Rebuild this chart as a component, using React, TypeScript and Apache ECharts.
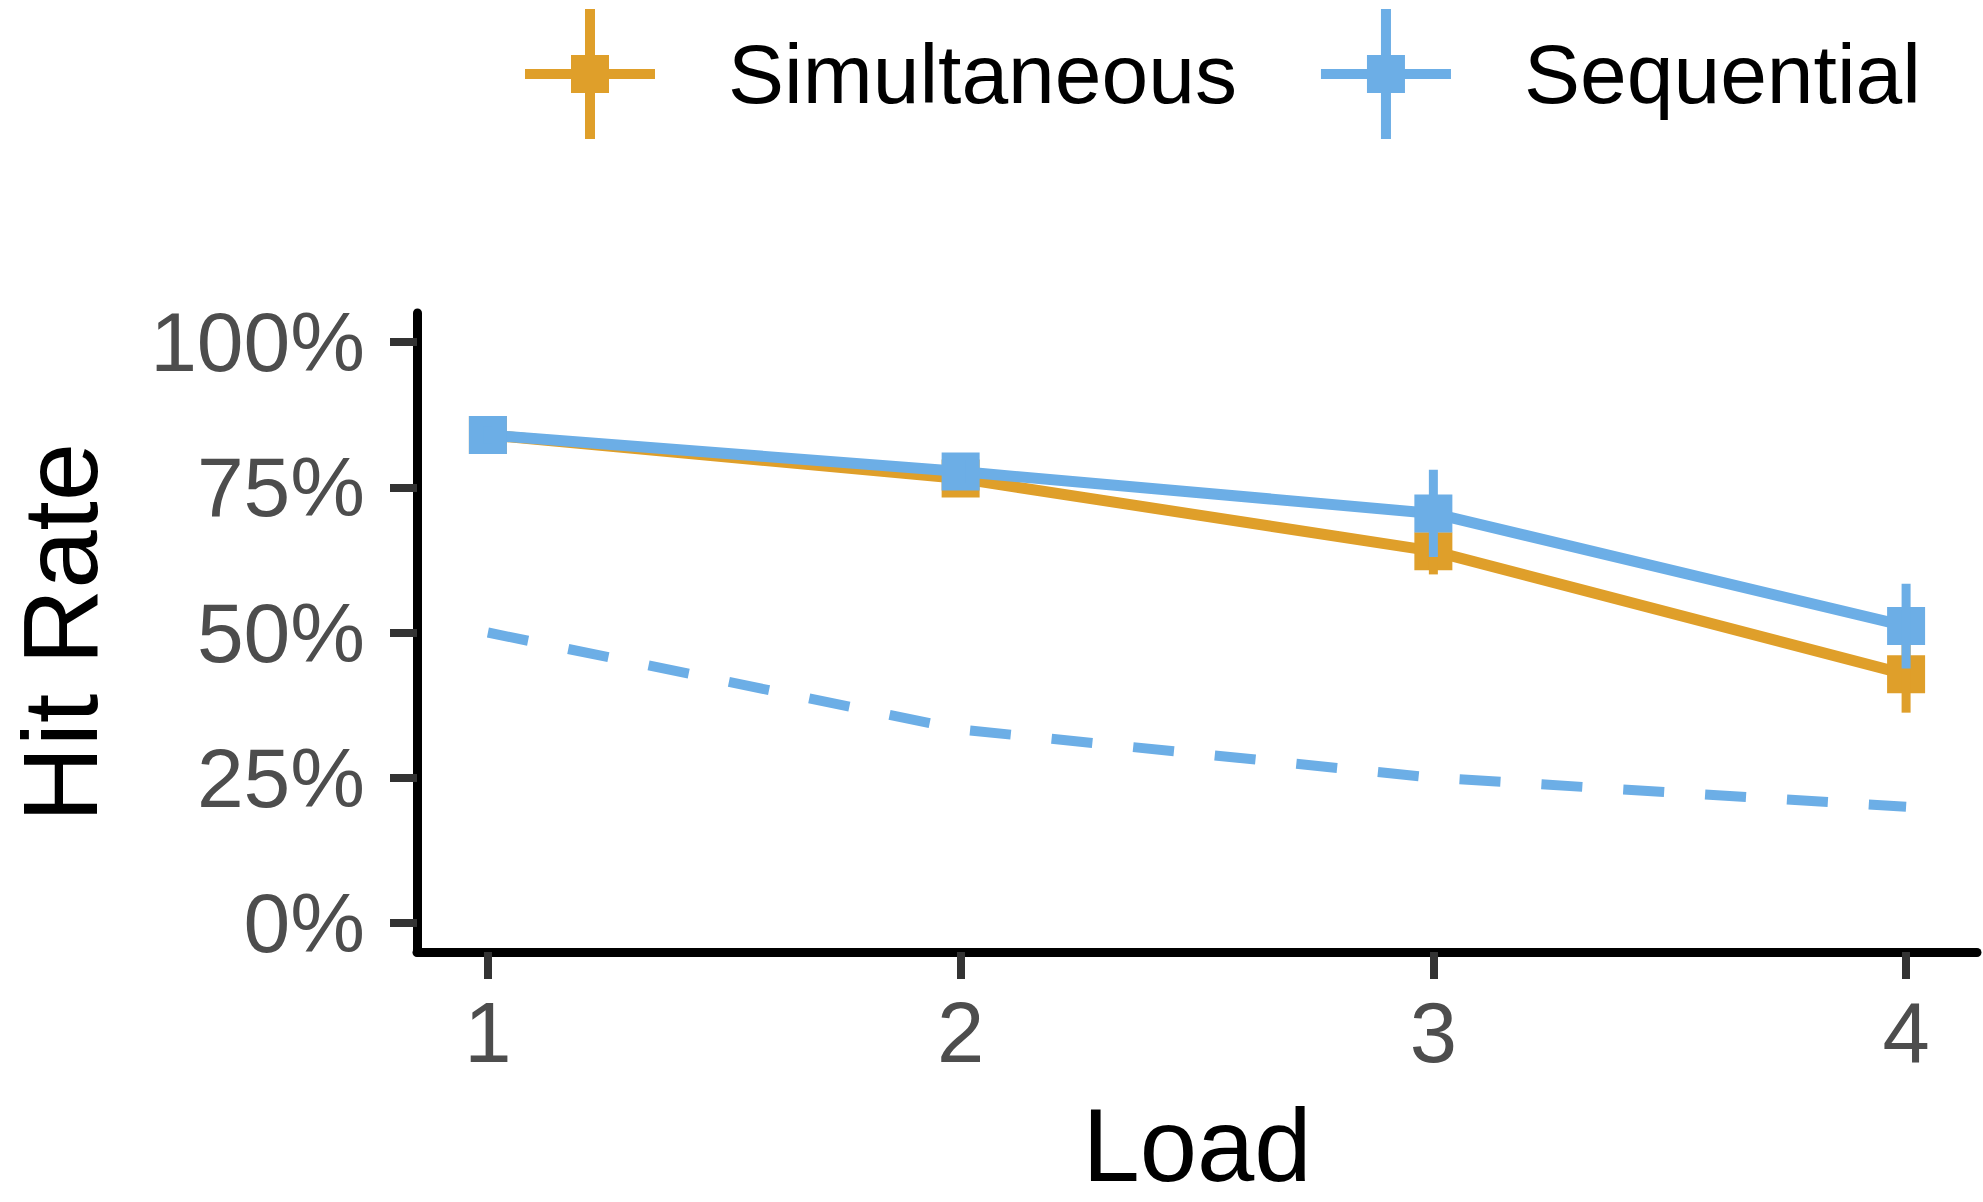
import React, { useEffect, useRef } from "react";
import * as echarts from "echarts";

const loads = [1, 2, 3, 4];
const simMean = [0.84, 0.765, 0.64, 0.428];
const simErr = [0.015, 0.02, 0.04, 0.066];
const seqMean = [0.84, 0.777, 0.705, 0.511];
const seqErr = [0.015, 0.02, 0.075, 0.073];
const chance = [0.5, 0.333, 0.25, 0.2];
const yTicks = [0, 0.25, 0.5, 0.75, 1];
const xTicks = [1, 2, 3, 4];
const seriesNames = ["Simultaneous", "Sequential"];

const ORANGE = "#DF9F2A";
const BLUE = "#6CAEE6";
const FONT = "Liberation Sans, Arial, Helvetica, sans-serif";
const LEGEND_ICON =
  "path://M0,60H130V70H0Z M60,0H70V130H60Z M46,46H84V84H46Z";

function errSeries(name: string, means: number[], errs: number[], color: string, z: number) {
  return {
    type: "custom",
    name,
    z,
    silent: true,
    data: loads.map((l, i) => [l, means[i] - errs[i], means[i] + errs[i]]),
    encode: { x: 0, y: [1, 2] },
    renderItem: (_params: any, api: any) => {
      const p1 = api.coord([api.value(0), api.value(1)]);
      const p2 = api.coord([api.value(0), api.value(2)]);
      return {
        type: "line",
        shape: { x1: p1[0], y1: p1[1], x2: p2[0], y2: p2[1] },
        style: { stroke: color, lineWidth: 9 },
      };
    },
  };
}

export default function App() {
  const ref = useRef<HTMLDivElement>(null);
  useEffect(() => {
    if (!ref.current) return;
    const chart = echarts.init(ref.current, undefined, { renderer: "svg" });
    chart.setOption({
      animation: false,
      backgroundColor: "#ffffff",
      textStyle: { fontFamily: FONT },
      legend: {
        left: 520,
        top: 4,
        itemWidth: 130,
        itemHeight: 131,
        itemGap: 84,
        data: [
          { name: seriesNames[0], icon: LEGEND_ICON, itemStyle: { color: ORANGE } },
          { name: seriesNames[1], icon: LEGEND_ICON, itemStyle: { color: BLUE } },
        ],
        textStyle: {
          fontSize: 84,
          color: "#000000",
          fontFamily: FONT,
          padding: [0, 0, 0, 68],
        },
      },
      grid: { left: 400, right: 6, top: 313, bottom: 243, containLabel: false },
      xAxis: {
        type: "value",
        min: 0.85,
        max: 4.15,
        name: "Load",
        nameLocation: "middle",
        nameGap: 142,
        nameTextStyle: { fontSize: 103, color: "#000000", fontFamily: FONT },
        splitLine: { show: false },
        axisLine: { onZero: false, lineStyle: { color: "#000000", width: 9 } },
        axisTick: {
          customValues: xTicks,
          length: 27,
          lineStyle: { color: "#333333", width: 8 },
        },
        axisLabel: {
          customValues: xTicks,
          margin: 38,
          fontSize: 85,
          color: "#4D4D4D",
          fontFamily: FONT,
          formatter: (v: number) => String(v),
        },
      },
      yAxis: {
        type: "value",
        min: -0.05,
        max: 1.05,
        name: "Hit Rate",
        nameLocation: "middle",
        nameRotate: 90,
        nameGap: 304,
        nameTextStyle: { fontSize: 105, color: "#000000", fontFamily: FONT },
        splitLine: { show: false },
        axisLine: { onZero: false, lineStyle: { color: "#000000", width: 9 } },
        axisTick: {
          customValues: yTicks,
          length: 27,
          lineStyle: { color: "#333333", width: 8 },
        },
        axisLabel: {
          customValues: yTicks,
          margin: 52,
          fontSize: 84,
          color: "#4D4D4D",
          fontFamily: FONT,
          formatter: (v: number) => Math.round(v * 100) + "%",
        },
      },
      series: [
        {
          type: "line",
          name: "chance",
          z: 1,
          silent: true,
          symbol: "none",
          data: loads.map((l, i) => [l, chance[i]]),
          lineStyle: { color: BLUE, width: 10, type: [41, 41] },
        },
        {
          type: "line",
          name: seriesNames[0],
          z: 2,
          symbol: "rect",
          symbolSize: 38,
          data: loads.map((l, i) => [l, simMean[i]]),
          itemStyle: { color: ORANGE },
          lineStyle: { color: ORANGE, width: 11 },
        },
        errSeries("simErr", simMean, simErr, ORANGE, 3),
        {
          type: "line",
          name: seriesNames[1],
          z: 4,
          symbol: "rect",
          symbolSize: 38,
          data: loads.map((l, i) => [l, seqMean[i]]),
          itemStyle: { color: BLUE },
          lineStyle: { color: BLUE, width: 11 },
        },
        errSeries("seqErr", seqMean, seqErr, BLUE, 5),
      ],
    });
    return () => chart.dispose();
  }, []);
  return (
    <div
      ref={ref}
      style={{ position: "fixed", left: 0, top: 0, width: 1983, height: 1202 }}
    />
  );
}
